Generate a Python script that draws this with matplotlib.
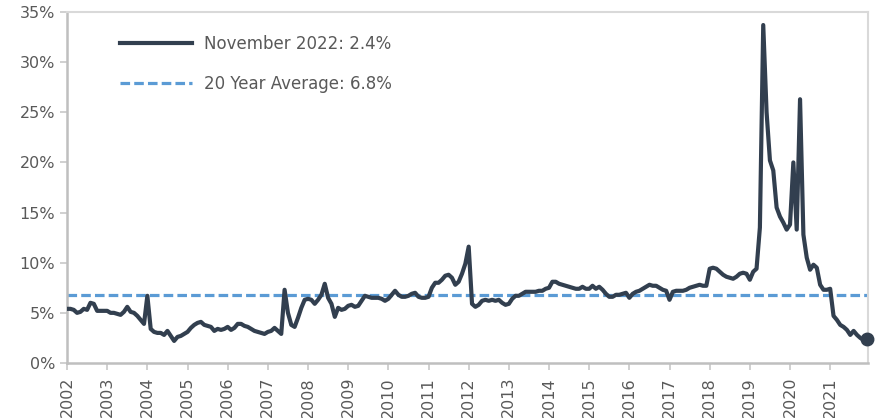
import numpy as np
import matplotlib.pyplot as plt

# monthly values, %
y2002 = [5.4, 5.4, 5.3, 5.0, 5.1, 5.4, 5.3, 6.0, 5.9, 5.2, 5.2, 5.2]
y2003 = [5.2, 5.0, 5.0, 4.9, 4.8, 5.1, 5.6, 5.1, 5.0, 4.7, 4.3, 3.9]
y2004 = [6.7, 3.4, 3.1, 3.0, 3.0, 2.8, 3.2, 2.7, 2.2, 2.6, 2.7, 2.9]
y2005 = [3.1, 3.5, 3.8, 4.0, 4.1, 3.8, 3.7, 3.6, 3.2, 3.4, 3.3, 3.4]
y2006 = [3.6, 3.3, 3.5, 3.9, 3.9, 3.7, 3.6, 3.4, 3.2, 3.1, 3.0, 2.9]
y2007 = [3.1, 3.2, 3.5, 3.2, 2.9, 7.3, 5.0, 3.8, 3.6, 4.5, 5.5, 6.3]
y2008 = [6.4, 6.3, 5.9, 6.3, 6.8, 7.9, 6.5, 5.9, 4.6, 5.5, 5.3, 5.4]
y2009 = [5.7, 5.8, 5.6, 5.7, 6.2, 6.7, 6.6, 6.5, 6.5, 6.5, 6.4, 6.2]
y2010 = [6.4, 6.8, 7.2, 6.8, 6.6, 6.6, 6.7, 6.9, 7.0, 6.6, 6.5, 6.5]
y2011 = [6.6, 7.5, 8.0, 8.0, 8.3, 8.7, 8.8, 8.5, 7.8, 8.1, 8.9, 9.9]
y2012 = [11.6, 5.9, 5.6, 5.8, 6.2, 6.3, 6.2, 6.3, 6.2, 6.3, 6.0, 5.8]
y2013 = [5.9, 6.4, 6.7, 6.7, 6.9, 7.1, 7.1, 7.1, 7.1, 7.2, 7.2, 7.4]
y2014 = [7.5, 8.1, 8.1, 7.9, 7.8, 7.7, 7.6, 7.5, 7.4, 7.4, 7.6, 7.4]
y2015 = [7.4, 7.7, 7.4, 7.6, 7.3, 6.9, 6.6, 6.6, 6.8, 6.8, 6.9, 7.0]
y2016 = [6.5, 6.9, 7.1, 7.2, 7.4, 7.6, 7.8, 7.7, 7.7, 7.5, 7.3, 7.2]
y2017 = [6.3, 7.1, 7.2, 7.2, 7.2, 7.3, 7.5, 7.6, 7.7, 7.8, 7.7, 7.7]
y2018 = [9.4, 9.5, 9.4, 9.1, 8.8, 8.6, 8.5, 8.4, 8.6, 8.9, 9.0, 8.9]
y2019 = [8.3, 9.1, 9.4, 13.5, 33.7, 25.0, 20.2, 19.2, 15.5, 14.6, 14.0, 13.3]
y2020 = [13.8, 20.0, 13.3, 26.3, 12.8, 10.5, 9.3, 9.8, 9.5, 7.8, 7.3, 7.3]
y2021 = [7.4, 4.7, 4.3, 3.8, 3.6, 3.3, 2.8, 3.2, 2.8, 2.5, 2.3, 2.4]

years = list(range(2002, 2022))
avg_rate = 6.8
line_label = 'November 2022: 2.4%'
avg_label = '20 Year Average: 6.8%'

rate = np.array(y2002 + y2003 + y2004 + y2005 + y2006 + y2007 + y2008 + y2009
                + y2010 + y2011 + y2012 + y2013 + y2014 + y2015 + y2016
                + y2017 + y2018 + y2019 + y2020 + y2021)
months = np.arange(len(rate))

navy = '#323f4f'
blue = '#5b9bd5'
grey_txt = '#595959'
grey_ax = '#c8c8c8'

fig = plt.figure(figsize=(8.75, 4.18), dpi=100)
ax = fig.add_axes([0.0766, 0.1316, 0.9154, 0.8397])

ax.plot(months, rate, color=navy, lw=3.0, solid_joinstyle='round',
        label=line_label, zorder=3)
ax.axhline(avg_rate, color=blue, lw=2.3, dashes=(3, 1.3), label=avg_label, zorder=2)
ax.plot(months[-1], rate[-1], 'o', color=navy, ms=9, clip_on=False, zorder=4)

ax.set_xlim(0, len(rate) - 0.7)
ax.set_ylim(0, 35)
ax.set_yticks(range(0, 36, 5))
ax.set_yticklabels([f'{v}%' for v in range(0, 36, 5)])
ax.set_xticks(months[::12])
ax.set_xticklabels([str(y) for y in years], rotation=90)

ax.tick_params(colors=grey_txt, labelsize=11.5, length=5, width=1.2)
ax.tick_params(axis='both', color=grey_ax)
ax.tick_params(axis='x', pad=5)
for side in ['left', 'bottom']:
    ax.spines[side].set_color('#bfbfbf')
    ax.spines[side].set_linewidth(1.8)
for side in ['top', 'right']:
    ax.spines[side].set_color('#d9d9d9')
    ax.spines[side].set_linewidth(1.5)

ax.legend(loc='upper left', bbox_to_anchor=(0.056, 0.958), frameon=False,
          fontsize=12, handlelength=4.3, handletextpad=0.75, labelspacing=1.3,
          borderpad=0, labelcolor=grey_txt)

fig.savefig('out.png', dpi=100)
